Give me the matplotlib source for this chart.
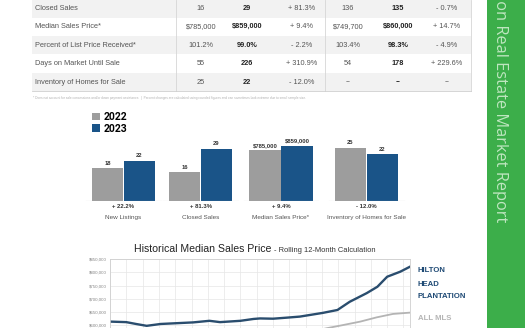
import matplotlib.pyplot as plt
from matplotlib.patches import Rectangle

W, H = 525, 328

# table (month + year to date)
row_labels = ["Closed Sales", "Median Sales Price*", "Percent of List Price Received*",
              "Days on Market Until Sale", "Inventory of Homes for Sale"]
month_2022 = ["16", "$785,000", "101.2%", "55", "25"]
month_2023 = ["29", "$859,000", "99.0%", "226", "22"]
month_change = ["+ 81.3%", "+ 9.4%", "- 2.2%", "+ 310.9%", "- 12.0%"]
ytd_2022 = ["136", "$749,700", "103.4%", "54", "--"]
ytd_2023 = ["135", "$860,000", "98.3%", "178", "--"]
ytd_change = ["- 0.7%", "+ 14.7%", "- 4.9%", "+ 229.6%", "--"]

# bar groups
bar_categories = ["New Listings", "Closed Sales", "Median Sales Price*", "Inventory of Homes for Sale"]
bar_2022 = [18, 16, 785000, 25]
bar_2023 = [22, 29, 859000, 22]
bar_text_2022 = ["18", "16", "$785,000", "25"]
bar_text_2023 = ["22", "29", "$859,000", "22"]
bar_change = ["+ 22.2%", "+ 81.3%", "+ 9.4%", "- 12.0%"]

# rolling 12-month median
hh_years = [2005.0, 2006.0, 2006.6, 2007.25, 2008.1, 2009.1, 2010.1, 2011.1, 2011.75,
            2013.0, 2013.8, 2014.2, 2015.0, 2015.85, 2016.65, 2017.25, 2018.05, 2018.95,
            2019.7, 2020.75, 2021.4, 2022.0, 2022.8, 2023.4]
hh_price = [614000, 612000, 605000, 598000, 605000, 608000, 611000, 617000, 612000,
            617000, 624000, 626000, 625000, 629000, 633000, 639000, 647000, 658000,
            689000, 722000, 746000, 784000, 803000, 822000]
mls_years = [2017.3, 2018.3, 2019.3, 2020.35, 2021.35, 2022.35, 2023.4]
mls_price = [575000, 589000, 601000, 614000, 630000, 643000, 648000]

GRAY = "#9d9d9d"
BLUE = "#1a5488"
LINE_BLUE = "#2a4d6e"
GREEN = "#3cae4a"
TXT = "#555555"

fig = plt.figure(figsize=(W / 100, H / 100), dpi=100)
plt.rcParams['font.family'] = ['Liberation Sans', 'DejaVu Sans']
renderer = fig.canvas.get_renderer()


def fx(px):
    return px / W


def fy(py):
    return 1 - py / H


page = fig.add_axes([0, 0, 1, 1])
page.set_xlim(0, W)
page.set_ylim(H, 0)
page.axis("off")

# ---- table
row_top, row_h = -0.8, 18.4
left, right = 32, 471
cols = [201, 247, 302, 348, 398, 447]
for i, label in enumerate(row_labels):
    top = row_top + row_h * i
    yc = top + row_h / 2
    if i % 2 == 0:
        page.add_patch(Rectangle((left, top), right - left, row_h, fc="#f2f2f2", ec="none"))
    page.text(35, yc, label, fontsize=5.3, color=TXT, va="center")
    vals = [month_2022[i], month_2023[i], month_change[i], ytd_2022[i], ytd_2023[i], ytd_change[i]]
    for j, v in enumerate(vals):
        bold = j in (1, 4)
        page.text(cols[j], yc, v, fontsize=5.3, ha="center", va="center",
                  color="#222222" if bold else TXT, fontweight="bold" if bold else "normal")
bottom = row_top + row_h * len(row_labels)
for x in (176, 325):
    page.plot([x, x], [0, bottom], color="#d6d6d6", lw=0.6)
page.plot([right, right], [0, bottom], color="#d6d6d6", lw=0.6)
page.plot([left, right], [bottom, bottom], color="#cfcfcf", lw=0.6)
page.text(33, 97.5, "* Does not account for sale concessions and/or down payment assistance.  |  "
          "Percent changes are calculated using rounded figures and can sometimes look extreme due to small sample size.",
          fontsize=2.3, color="#b0b0b0", va="center")

# ---- green side bar
page.add_patch(Rectangle((487, 0), W - 487, H, fc=GREEN, ec="none"))
page.text(500, 222, "Hilton Head Plantation Real Estate Market Report", rotation=-90,
          fontsize=11.8, color="#bfe6c0", ha="center", va="bottom",
          family=["Open Sans", "DejaVu Sans"], clip_on=True)

# ---- bar groups
centers = [123.5, 200.5, 281, 366.5]
tops = [33, 33.5, 937000, 28.3]
base, ax_h, ax_w = 200.7, 60, 78
handles = None
for g, cat in enumerate(bar_categories):
    ax = fig.add_axes([fx(centers[g] - ax_w / 2), fy(base), fx(ax_w), ax_h / H])
    b1 = ax.bar(-0.41, bar_2022[g], width=0.8, color=GRAY)
    b2 = ax.bar(0.41, bar_2023[g], width=0.8, color=BLUE)
    handles = [b1, b2]
    ax.set_xlim(-1, 1)
    ax.set_ylim(0, tops[g])
    ax.axis("off")
    ax.axhline(0, color="#c8c8c8", lw=0.8, xmin=0.02, xmax=0.98)
    ax.text(-0.41, bar_2022[g] + tops[g] * 0.04, bar_text_2022[g], ha="center", va="bottom",
            fontsize=4.2, fontweight="bold", color="#333333")
    ax.text(0.41, bar_2023[g] + tops[g] * 0.04, bar_text_2023[g], ha="center", va="bottom",
            fontsize=4.2, fontweight="bold", color="#333333")
    page.text(centers[g], 206.5, bar_change[g], ha="center", va="center", fontsize=4.3,
              fontweight="bold", color="#333333")
    page.text(centers[g], 217.5, cat, ha="center", va="center", fontsize=4.6, color=TXT)

fig.legend(handles, ["2022", "2023"], loc="upper left", bbox_to_anchor=(fx(88), fy(108)),
           frameon=False, handlelength=0.75, handleheight=0.75, handletextpad=0.35,
           labelspacing=0.15, borderaxespad=0, prop={"weight": "bold", "size": 7.5,
                                                   "family": ["Roboto", "DejaVu Sans"]})

# ---- line chart title, centred over the plot
title = page.text(0, 252, "Historical Median Sales Price", fontsize=7.6, color="#222222",
                  va="baseline")
sub = page.text(0, 252, "- Rolling 12-Month Calculation", fontsize=5.4, color="#333333",
                va="baseline")
tw = title.get_window_extent(renderer).width
sw = sub.get_window_extent(renderer).width
x0 = 255 - (tw + 3 + sw) / 2
title.set_x(x0)
sub.set_x(x0 + tw + 3)

lx = fig.add_axes([fx(110), fy(259.3 + 105.6), fx(300), 105.6 / H])
lx.plot(mls_years, mls_price, color="#b4b4b4", lw=1.3)
lx.plot(hh_years, hh_price, color=LINE_BLUE, lw=1.7)
lx.set_xlim(2005, 2023.4)
lx.set_ylim(450000, 850000)
lx.set_xticks(range(2005, 2024))
lx.set_xticklabels([])
lx.set_yticks(range(450000, 850001, 50000))
lx.set_yticklabels([f"${v:,.0f}" if v >= 600000 else "" for v in range(450000, 850001, 50000)],
                   fontsize=3.2, color="#888888")
lx.tick_params(length=0, pad=2)
lx.grid(True, color="#e6e6e6", lw=0.5)
for s in lx.spines.values():
    s.set_color("#cfcfcf")
    s.set_linewidth(0.6)

for k, word in enumerate(["HILTON", "HEAD", "PLANTATION"]):
    page.text(418, 271 + 13 * k, word, fontsize=5.6, fontweight="bold", color="#1f4a75",
              va="center")
page.text(418, 319, "ALL MLS", fontsize=5.6, fontweight="bold", color="#b5b5b5", va="center")

fig.savefig("out.png", dpi=100)
